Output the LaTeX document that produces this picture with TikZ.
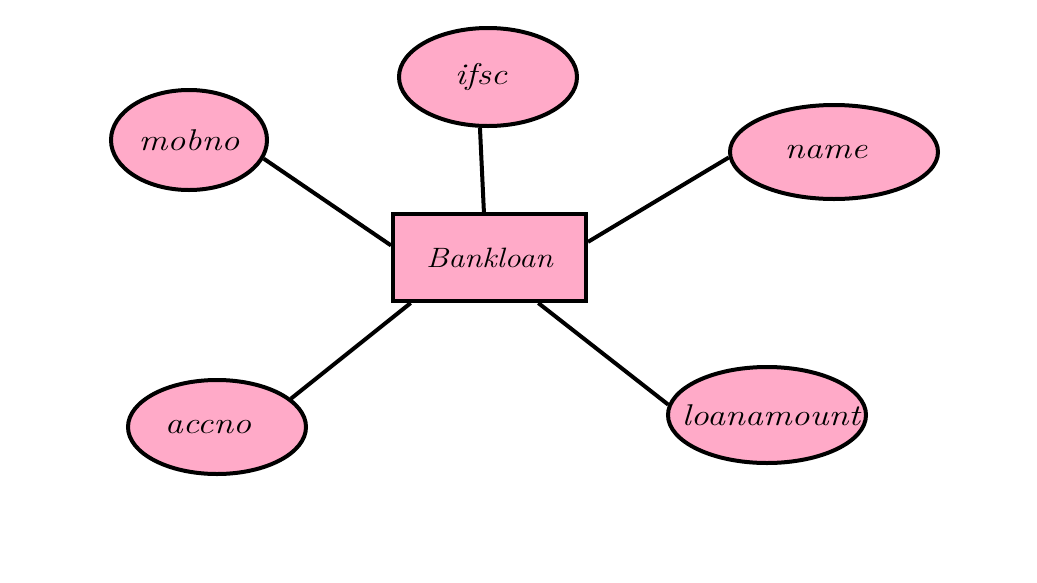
\documentclass[tikz,border=0pt]{standalone}
\usetikzlibrary{shapes.geometric}
\definecolor{erpink}{HTML}{FFAAC8}
\newcommand{\hwtext}[2][0]{\makebox[0pt]{\hspace*{#1pt}\hspace*{#1pt}\scalebox{1.2}[1]{#2}}}
\begin{document}
\begin{tikzpicture}[x=1pt,y=-1pt,
  attr/.style={ellipse,draw=black,line width=4pt,fill=erpink,inner sep=0pt,font=\fontsize{30}{32}\selectfont\itshape},
  ent/.style={rectangle,draw=black,line width=4pt,fill=erpink,inner sep=0pt,minimum width=193pt,minimum height=87pt,font=\fontsize{28}{30}\selectfont\itshape},
  conn/.style={line width=4pt,black}]
\useasboundingbox[fill=white] (0,0) rectangle (1037,582);
\node[ent] (b) at (489.5,257.5) {\scalebox{1.15}[1]{Bankloan}};
\node[attr,minimum width=178pt,minimum height=98pt] (ifsc) at (488,77) {\hwtext[-7]{ifsc}};
\node[attr,minimum width=156pt,minimum height=100pt] (mob) at (189,140) {\hwtext{mobno}};
\node[attr,minimum width=208pt,minimum height=94pt] (name) at (834,152) {\hwtext[-8]{name}};
\node[attr,minimum width=178pt,minimum height=94pt] (acc) at (217,427) {\hwtext[-9]{accno}};
\node[attr,minimum width=198pt,minimum height=96pt] (loan) at (767,415) {\hwtext[4]{loanamount}};
\draw[conn] (ifsc.-99.3) -- (b.97.2);
\draw[conn] (mob.-14.9) -- (b.173.8);
\draw[conn] (name.-177.2) -- (b.9.1);
\draw[conn] (acc.21.5) -- (b.210.2);
\draw[conn] (loan.174.1) -- (b.-43.1);
\end{tikzpicture}
\end{document}
